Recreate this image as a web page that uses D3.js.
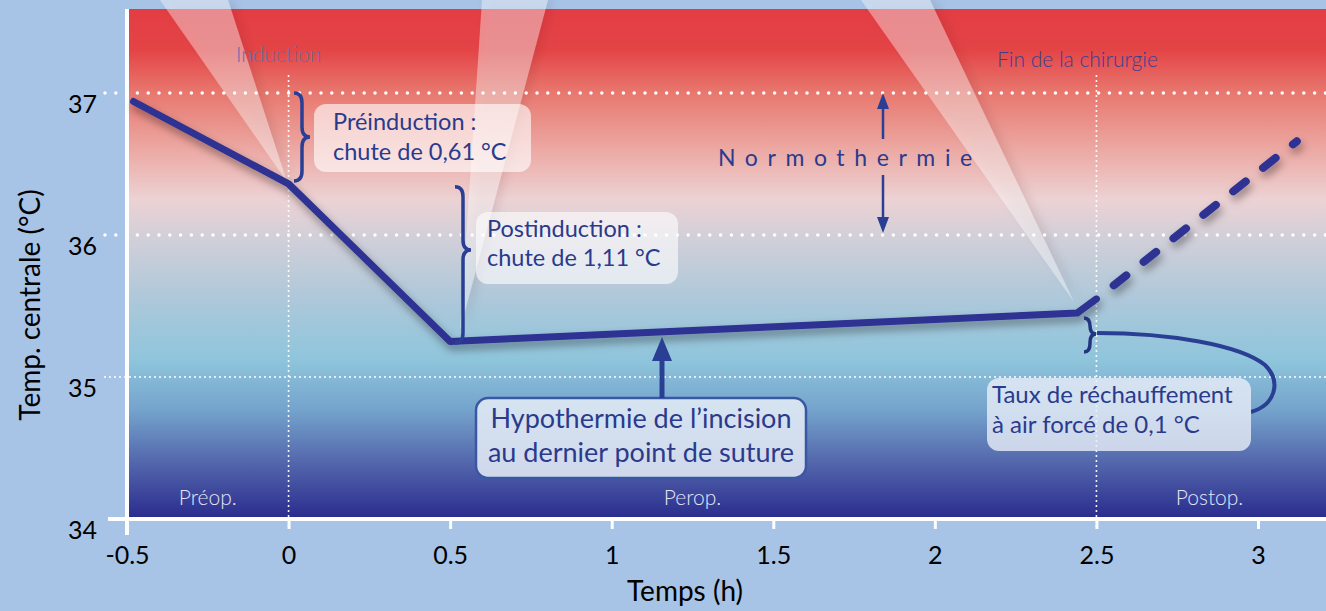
<!DOCTYPE html>
<html>
<head>
<meta charset="utf-8">
<script src="https://cdn.jsdelivr.net/npm/d3@7"></script>
<style>
  body { margin: 0; background: #a7c3e6; }
  svg { display: block; font-family: Lato, "Open Sans", sans-serif; }
</style>
</head>
<body>
<div id="chart"></div>
<script>
// data
const timeTicks = [-0.5, 0, 0.5, 1, 1.5, 2, 2.5, 3];
const timeTickLabels = ["-0.5", "0", "0.5", "1", "1.5", "2", "2.5", "3"];
const tempTicks = [34, 35, 36, 37];
const solidTimes = [-0.48, 0, 0.5, 2.44, 2.5];
const solidTemps = [36.94, 36.36, 35.25, 35.45, 35.55];
const dashedTimes = [2.5, 3.12];
const dashedTemps = [35.55, 36.66];
const phaseNames = ["Préop.", "Perop.", "Postop."];
const phaseTimes = [-0.25, 1.25, 2.85];
const eventNames = ["Induction", "Fin de la chirurgie"];
const eventTimes = [0, 2.5];

const W = 1326, H = 611;
const svg = d3.select("#chart").append("svg")
    .attr("width", W).attr("height", H)
    .attr("viewBox", `0 0 ${W} ${H}`);

const x = d3.scaleLinear().domain([-0.5, 3]).range([127, 1258]);
const y = d3.scaleLinear().domain([34, 37]).range([519, 93]);
const plotTop = 9, plotBottom = 517, plotLeft = 128;

const defs = svg.append("defs");

// background gradient red -> pale -> light blue -> dark blue
const grad = defs.append("linearGradient")
    .attr("id", "bg").attr("gradientUnits", "userSpaceOnUse")
    .attr("x1", 0).attr("y1", plotTop).attr("x2", 0).attr("y2", plotBottom);
[[0, "#e33d44"], [0.08, "#e44446"], [0.165, "#e8786f"], [0.28, "#ecaaa5"],
 [0.375, "#ecd2d4"], [0.455, "#d0cfd9"], [0.57, "#aec8da"], [0.69, "#8fc5dc"],
 [0.79, "#74a3cc"], [0.89, "#5468ad"], [1, "#2b2d8e"]]
    .forEach(([o, c]) => grad.append("stop").attr("offset", o).attr("stop-color", c));

const shadow = defs.append("filter").attr("id", "shadow")
    .attr("x", "-10%").attr("y", "-30%").attr("width", "120%").attr("height", "160%");
shadow.append("feDropShadow").attr("dx", 2).attr("dy", 5).attr("stdDeviation", 4)
    .attr("flood-color", "#000").attr("flood-opacity", 0.4);

const beamShadow = defs.append("filter").attr("id", "beamShadow")
    .attr("x", "-30%").attr("y", "-10%").attr("width", "160%").attr("height", "120%");
beamShadow.append("feDropShadow").attr("dx", 5).attr("dy", 0).attr("stdDeviation", 4)
    .attr("flood-color", "#3a0a20").attr("flood-opacity", 0.25);

svg.append("rect")
    .attr("x", plotLeft).attr("y", plotTop)
    .attr("width", W - plotLeft).attr("height", plotBottom - plotTop)
    .attr("fill", "url(#bg)");

// light beams pointing at the events
const beams = [
    [[160, 0], [228, 0], [x(0) - 2, y(36.38)]],
    [[482, 0], [548, 0], [460, 330]],
    [[861, 0], [930, 0], [1074, 302]]
];
svg.append("g").selectAll("path").data(beams).join("path")
    .attr("d", d => "M" + d.join("L") + "Z")
    .attr("fill", "#fff").attr("fill-opacity", 0.38)
    .attr("filter", "url(#beamShadow)");

// dotted grid
const grid = svg.append("g");
grid.selectAll("line.h").data(tempTicks.filter(t => t > 34)).join("line")
    .attr("x1", 105).attr("x2", W)
    .attr("y1", d => y(d)).attr("y2", d => y(d))
    .attr("stroke", "#fff").attr("stroke-linecap", "round")
    .attr("stroke-width", d => d === 35 ? 2 : 3.5)
    .attr("stroke-dasharray", d => d === 35 ? "0,5" : "0,10.8");
grid.selectAll("line.v").data(eventTimes).join("line")
    .attr("x1", d => x(d)).attr("x2", d => x(d))
    .attr("y1", 76).attr("y2", plotBottom + 10)
    .attr("stroke", "#fff").attr("stroke-linecap", "round")
    .attr("stroke-width", 2).attr("stroke-dasharray", "0,5");

// axes
svg.append("line").attr("x1", plotLeft - 1).attr("x2", plotLeft - 1)
    .attr("y1", plotTop).attr("y2", 535)
    .attr("stroke", "#fff").attr("stroke-width", 4);
svg.append("line").attr("x1", 108).attr("x2", W)
    .attr("y1", plotBottom + 2).attr("y2", plotBottom + 2)
    .attr("stroke", "#fff").attr("stroke-width", 4);

const xAxis = d3.axisBottom(x).tickValues(timeTicks)
    .tickFormat((d, i) => timeTickLabels[i]).tickSize(10).tickPadding(17);
svg.append("g").attr("transform", `translate(0,${plotBottom + 2})`).call(xAxis)
    .call(g => g.select(".domain").remove())
    .call(g => g.selectAll(".tick line").attr("stroke", "#fff").attr("stroke-width", 3))
    .call(g => g.selectAll(".tick text").attr("fill", "#000")
        .attr("font-size", 25).attr("font-family", "Lato, sans-serif"));

const yAxis = d3.axisLeft(y).tickValues(tempTicks).tickFormat(d3.format("d"))
    .tickSize(0).tickPadding(0);
svg.append("g").attr("transform", `translate(97,0)`).call(yAxis)
    .call(g => g.select(".domain").remove())
    .call(g => g.selectAll(".tick text").attr("fill", "#000")
        .attr("font-size", 25).attr("dy", "0.78em").attr("font-family", "Lato, sans-serif"));

svg.append("text").attr("transform", `translate(40,305) rotate(-90)`)
    .attr("text-anchor", "middle").attr("font-size", 28).attr("fill", "#000")
    .text("Temp. centrale (°C)");
svg.append("text").attr("x", 685).attr("y", 601)
    .attr("text-anchor", "middle").attr("font-size", 28).attr("fill", "#000")
    .text("Temps (h)");

// phase & event labels
svg.append("g").selectAll("text").data(phaseNames).join("text")
    .attr("x", (d, i) => x(phaseTimes[i])).attr("y", 505)
    .attr("text-anchor", "middle").attr("font-size", 21).attr("font-weight", 300)
    .attr("fill", "#e4e6f4").text(d => d);
svg.append("g").selectAll("text").data(eventNames).join("text")
    .attr("x", (d, i) => i === 0 ? x(eventTimes[i]) - 10 : x(eventTimes[i]) - 19)
    .attr("y", (d, i) => i === 0 ? 62 : 67)
    .attr("text-anchor", "middle").attr("font-size", 21).attr("font-weight", 300)
    .attr("fill", (d, i) => i === 0 ? "#6a6cab" : "#3b3f90").text(d => d);

// temperature curve
const line = d3.line().x(d => x(d[0])).y(d => y(d[1]));
svg.append("path")
    .datum(solidTimes.map((t, i) => [t, solidTemps[i]]))
    .attr("d", line).attr("fill", "none")
    .attr("stroke", "#2e3192").attr("stroke-width", 7)
    .attr("stroke-linejoin", "round").attr("stroke-linecap", "round")
    .attr("filter", "url(#shadow)");
svg.append("path")
    .datum(dashedTimes.map((t, i) => [t, dashedTemps[i]]))
    .attr("d", line).attr("fill", "none")
    .attr("stroke", "#2e3192").attr("stroke-width", 8)
    .attr("stroke-linecap", "round").attr("stroke-dasharray", "16,22")
    .attr("stroke-dashoffset", -22)
    .attr("filter", "url(#shadow)");

// annotation helpers
const ink = "#2a3f93";
function brace(x0, y0, y1, w, ym) {
    const h = w / 2, q = Math.min(10, (y1 - y0) / 4);
    ym = ym ?? (y0 + y1) / 2;
    return `M${x0},${y0} Q${x0 + h},${y0} ${x0 + h},${y0 + q} L${x0 + h},${ym - q}` +
        ` Q${x0 + h},${ym} ${x0 + w},${ym} Q${x0 + h},${ym} ${x0 + h},${ym + q}` +
        ` L${x0 + h},${y1 - q} Q${x0 + h},${y1} ${x0},${y1}`;
}
function arrowHead(cx, tipY, dir, hw, len) {
    return `M${cx},${tipY} L${cx - hw},${tipY + dir * len} L${cx + hw},${tipY + dir * len}Z`;
}
const ann = svg.append("g");

// braces
ann.append("path").attr("d", brace(294, y(37), y(36.38), 16))
    .attr("fill", "none").attr("stroke", ink).attr("stroke-width", 3.5);
ann.append("path").attr("d", brace(455, y(36.34), y(35.24), 16, 250))
    .attr("fill", "none").attr("stroke", ink).attr("stroke-width", 3.5);
ann.append("path").attr("d", brace(1084, 318, 352, 12, 334))
    .attr("fill", "none").attr("stroke", "#23337f").attr("stroke-width", 3.5);

// loop from the small brace to the warming box
ann.append("path")
    .attr("d", "M1097,333 C1170,333 1240,345 1265,365 C1282,382 1275,405 1251,412")
    .attr("fill", "none").attr("stroke", ink).attr("stroke-width", 4);

// text boxes
const boxes = [
    { x: 314, y: 104, w: 217, h: 68, lines: ["Préinduction :", "chute de 0,61 °C"], tx: 333, ty: [130, 160], fs: 23.5, fill: "#fff", op: 0.62, stroke: null },
    { x: 476, y: 212, w: 202, h: 72, lines: ["Postinduction :", "chute de 1,11 °C"], tx: 487, ty: [237, 266], fs: 23.5, fill: "#fff", op: 0.6, stroke: null },
    { x: 476, y: 398, w: 330, h: 80, lines: ["Hypothermie de l’incision", "au dernier point de suture"], tx: 641, ty: [428, 462], fs: 27, fill: "#e3ebf5", op: 0.88, stroke: "#3a57a3", anchor: "middle" },
    { x: 987, y: 378, w: 264, h: 73, lines: ["Taux de réchauffement", "à air forcé de 0,1 °C"], tx: 992, ty: [403, 433], fs: 24, fill: "#e8eef7", op: 0.8, stroke: null }
];
boxes.forEach(b => {
    ann.append("rect").attr("x", b.x).attr("y", b.y).attr("width", b.w).attr("height", b.h)
        .attr("rx", 12).attr("fill", b.fill).attr("fill-opacity", b.op)
        .attr("stroke", b.stroke || "none").attr("stroke-width", 2.5);
    b.lines.forEach((t, i) => ann.append("text")
        .attr("x", b.tx).attr("y", b.ty[i]).attr("font-size", b.fs)
        .attr("text-anchor", b.anchor || "start")
        .attr("fill", "#2a3a8c").text(t));
});

// arrows
const arrowX = 883;
ann.append("line").attr("x1", arrowX).attr("x2", arrowX).attr("y1", 104).attr("y2", 139)
    .attr("stroke", ink).attr("stroke-width", 2.5);
ann.append("path").attr("d", arrowHead(arrowX, y(37), 1, 6, 16)).attr("fill", ink);
ann.append("line").attr("x1", arrowX).attr("x2", arrowX).attr("y1", 175).attr("y2", 222)
    .attr("stroke", ink).attr("stroke-width", 2.5);
ann.append("path").attr("d", arrowHead(arrowX, y(36) - 2, -1, 6, 16)).attr("fill", ink);

ann.append("text").attr("x", 718).attr("y", 166).attr("font-size", 23)
    .attr("letter-spacing", 9.6).attr("fill", "#2a3a8c").text("Normothermie");

const hypoX = 662;
ann.append("line").attr("x1", hypoX).attr("x2", hypoX).attr("y1", 398).attr("y2", 355)
    .attr("stroke", ink).attr("stroke-width", 5);
ann.append("path").attr("d", arrowHead(hypoX, 337, 1, 10, 24)).attr("fill", ink);
</script>
</body>
</html>
